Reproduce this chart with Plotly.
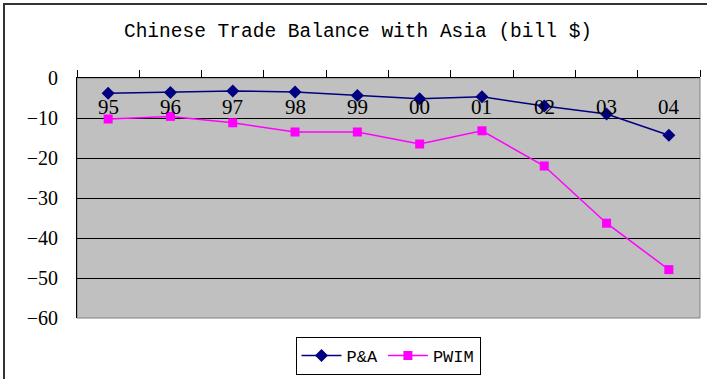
import plotly.graph_objects as go

years = ["95", "96", "97", "98", "99", "00", "01", "02", "03", "04"]
pa_values = [-3.8, -3.6, -3.25, -3.5, -4.4, -5.2, -4.7, -7.0, -9.0, -14.3]
pwim_values = [-10.25, -9.6, -11.2, -13.5, -13.5, -16.5, -13.2, -22.0, -36.3, -47.9]
y_ticks = [0, -10, -20, -30, -40, -50, -60]
y_tick_text = ["0", "\u221210", "\u221220", "\u221230", "\u221240", "\u221250", "\u221260"]

serif = "Liberation Serif, Times New Roman, serif"
mono = "Liberation Mono, DejaVu Sans Mono, monospace"

fig = go.Figure()
fig.add_trace(go.Scatter(
    x=years, y=pa_values, name="P&A", mode="lines+markers",
    line=dict(color="#000080", width=1.5),
    marker=dict(symbol="diamond", size=10, color="#000080"),
))
fig.add_trace(go.Scatter(
    x=years, y=pwim_values, name="PWIM", mode="lines+markers",
    line=dict(color="#FF00FF", width=1.5),
    marker=dict(symbol="square", size=9, color="#FF00FF"),
))

W, H = 707, 379
L, R, T, B = 77, 7, 78, 61
pw, ph = W - L - R, H - T - B

def px_x(x):
    return (x - L) / pw

def px_y(y):
    return (H - B - y) / ph

# category labels just below the top axis line (axis crosses at 0)
annotations = [
    dict(x=i, y=0, xref="x", yref="y", text=yr, showarrow=False,
         yanchor="top", yshift=-15,
         font=dict(family=serif, size=21, color="black"))
    for i, yr in enumerate(years)
]

fig.update_layout(
    width=W, height=H,
    margin=dict(l=L, r=R, t=T, b=B),
    paper_bgcolor="white",
    plot_bgcolor="#C0C0C0",
    title=dict(text="Chinese Trade Balance with Asia (bill $)",
               font=dict(family=mono, size=19.5, color="black"),
               x=px_x(358), xref="paper", xanchor="center",
               y=1 - 30 / H, yref="container", yanchor="middle"),
    showlegend=True,
    legend=dict(orientation="h", x=388 / W, xref="container", xanchor="center",
                y=1 - 337 / H, yref="container", yanchor="top",
                bordercolor="black", borderwidth=1, bgcolor="white",
                font=dict(family=mono, size=17, color="black"),
                itemwidth=40, tracegroupgap=0),
    annotations=annotations,
    xaxis=dict(
        type="category", side="top", automargin=False,
        range=[-0.5, len(years) - 0.5],
        showline=True, linecolor="black", linewidth=1,
        ticks="outside", ticklen=7, tickcolor="black", tickwidth=1,
        tickson="boundaries", showticklabels=False,
        showgrid=False, zeroline=False,
    ),
    yaxis=dict(
        range=[-60, 0], tickvals=y_ticks, ticktext=y_tick_text,
        automargin=False,
        showline=True, linecolor="black", linewidth=1,
        ticks="", ticklabelstandoff=14,
        tickfont=dict(family=serif, size=20, color="black"),
        showgrid=True, gridcolor="black", gridwidth=1,
        zeroline=False,
    ),
    shapes=[
        dict(type="rect", xref="paper", yref="paper",
             x0=0, x1=1, y0=0, y1=1,
             line=dict(color="#808080", width=1), layer="below"),
        dict(type="rect", xref="paper", yref="paper",
             x0=px_x(4), x1=px_x(740), y0=px_y(4), y1=px_y(420),
             line=dict(color="#333333", width=2), layer="above"),
    ],
)

fig.write_html("out.html", config={"displayModeBar": False},
               post_script="document.body.style.margin='0';document.body.style.overflow='hidden';")
